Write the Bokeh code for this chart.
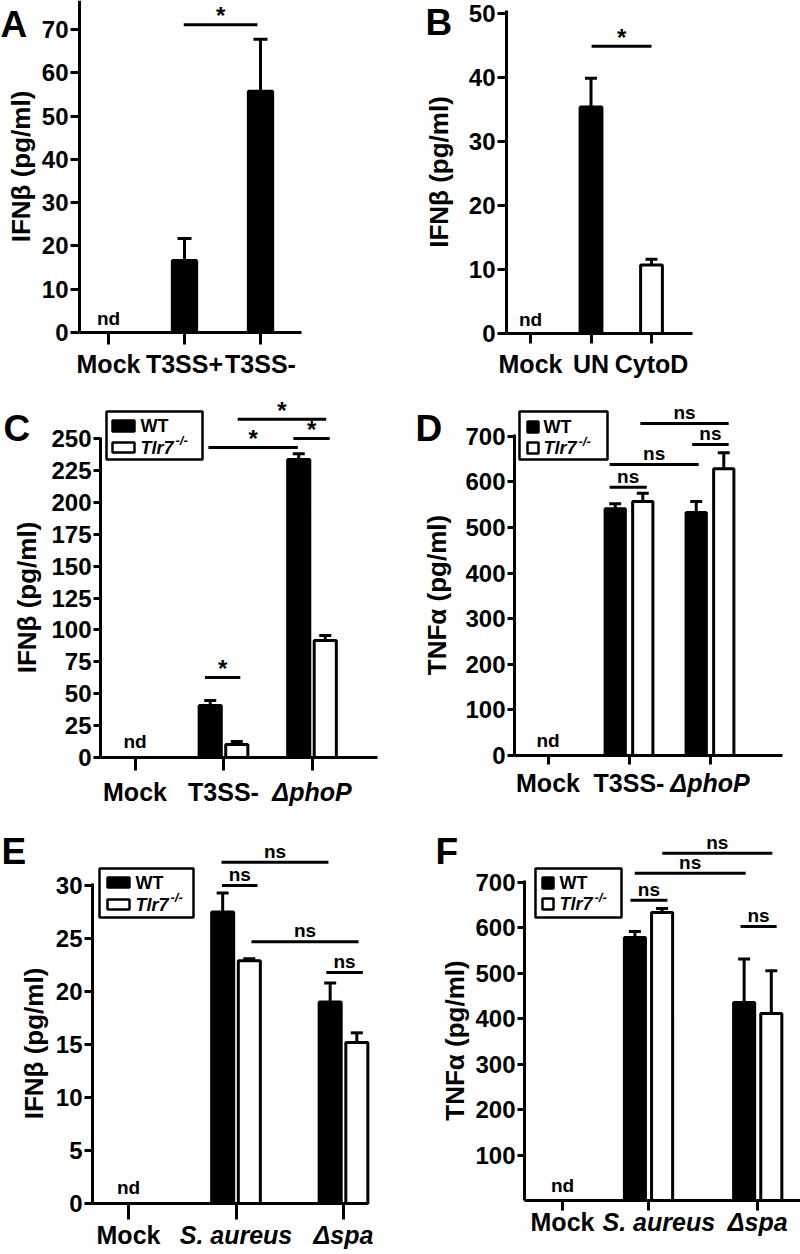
from bokeh.plotting import figure
from bokeh.models import Range1d, LinearAxis, FixedTicker, Whisker, TeeHead, ColumnDataSource
from bokeh.layouts import gridplot
from bokeh.embed import file_html
from bokeh.resources import INLINE
from bokeh.core.properties import value

# ------------------------------------------------------------------ data
cats_A = ["Mock", "T3SS+", "T3SS-"]
ifnb_A = [None, 16.6, 55.7]
sem_A = [None, 5.1, 12.0]
sig_A = [(1.99, 2.96, 71.1, "*")]

cats_B = ["Mock", "UN", "CytoD"]
ifnb_B = [None, 35.4, 10.7]
sem_B = [None, 4.5, 0.9]
sig_B = [(2.01, 3.0, 44.9, "*")]

cats_C = ["Mock", "T3SS-", "\u0394phoP"]
wt_C = [None, 40.7, 233.5]
wt_sem_C = [None, 4.0, 4.5]
ko_C = [None, 10.2, 91.7]
ko_sem_C = [None, 2.3, 3.9]
sig_C = [(1.79, 2.19, 62.7, "*"), (1.83, 2.84, 243, "*"),
         (2.79, 3.20, 250, "*"), (2.16, 3.16, 265, "*")]

cats_D = ["Mock", "T3SS-", "\u0394phoP"]
wt_D = [None, 541, 533]
wt_sem_D = [None, 11, 24]
ko_D = [None, 557, 629]
ko_sem_D = [None, 18, 35]
sig_D = [(1.76, 2.22, 588, "ns"), (1.76, 2.86, 638, "ns"),
         (2.78, 3.23, 682, "ns"), (2.14, 3.23, 728, "ns")]

cats_E = ["Mock", "S. aureus", "\u0394spa"]
wt_E = [None, 27.5, 19.0]
wt_sem_E = [None, 1.8, 1.8]
ko_E = [None, 22.9, 15.2]
ko_sem_E = [None, 0.2, 0.9]
sig_E = [(1.87, 2.20, 30.0, "ns"), (1.865, 2.86, 32.2, "ns"),
         (2.144, 3.14, 24.7, "ns"), (2.84, 3.18, 21.8, "ns")]

cats_F = ["Mock", "S. aureus", "\u0394spa"]
wt_F = [None, 578, 435]
wt_sem_F = [None, 13, 96]
ko_F = [None, 633, 411]
ko_sem_F = [None, 9, 94]
sig_F = [(1.79, 2.22, 660, "ns"), (1.84, 3.13, 719, "ns"),
         (2.16, 3.44, 763, "ns"), (3.07, 3.49, 602, "ns")]

FONT = "Liberation Sans"


def style_axis(ax, tick_out, label_size):
    ax.axis_line_width = 3
    ax.axis_line_color = "black"
    ax.major_tick_line_width = 3
    ax.major_tick_line_color = "black"
    ax.major_tick_in = 0
    ax.major_tick_out = tick_out
    ax.minor_tick_in = 0
    ax.minor_tick_out = 0
    ax.major_label_text_font = FONT
    ax.major_label_text_font_style = "bold"
    ax.major_label_text_font_size = label_size
    ax.major_label_text_color = "black"
    ax.axis_label_text_font = FONT
    ax.axis_label_text_font_style = "bold"
    ax.axis_label_text_font_size = "26px"
    ax.axis_label_text_color = "black"


def txt(p, xs, ys, texts, size, align="center", baseline="alphabetic",
        style="bold", y_offset=0):
    p.text(x=xs, y=ys, text=texts, text_font=value(FONT), text_font_style=style,
           text_font_size=size, text_align=align, text_baseline=baseline,
           text_color="black", y_offset=y_offset)


def build(s):
    W, H = s["W"], s["H"]
    yax, xax, x1, dx, ppu = s["yax"], s["xax"], s["x1"], s["dx"], s["ppu"]
    X = lambda px: 1 + (px - x1) / dx
    Y = lambda py: (xax - py) / ppu
    p = figure(width=W, height=H, x_range=Range1d(X(0), X(W)),
               y_range=Range1d(Y(H), Y(0)), x_axis_location=None,
               y_axis_location=None, toolbar_location=None, output_backend="svg",
               min_border=0, outline_line_color=None,
               background_fill_color="white", border_fill_color="white")
    p.grid.visible = False

    # y axis
    ytop = s["ytop"] if s["ytop"] is not None else Y(0)
    ya = LinearAxis(fixed_location=X(yax), bounds=(0, ytop),
                    ticker=FixedTicker(ticks=s["yticks"]), axis_label=s["ylabel"])
    style_axis(ya, s["ytick_out"], "24px")
    ya.major_label_standoff = 2
    ya.axis_label_standoff = s["als"]
    p.add_layout(ya, "left")

    # x axis (upright labels)
    pos, cats, ital = s["xpos"], s["cats"], s["italic"]
    ov = {pos[i]: ("" if ital[i] else cats[i]) for i in range(len(cats))}
    xa = LinearAxis(fixed_location=0, bounds=(X(yax), X(s["xright"])),
                    ticker=FixedTicker(ticks=pos), major_label_overrides=ov)
    style_axis(xa, s["xtick_out"], "25px")
    xa.major_label_standoff = s["xls"]
    p.add_layout(xa, "below")
    # x axis (italic labels; its own ticks are hidden)
    shift = s.get("ishift", {})
    ipos = [pos[i] + shift.get(i, 0) for i in range(len(cats)) if ital[i]]
    if ipos:
        iov = {pos[i] + shift.get(i, 0): cats[i] for i in range(len(cats)) if ital[i]}
        xb = LinearAxis(fixed_location=0, ticker=FixedTicker(ticks=ipos),
                        major_label_overrides=iov)
        style_axis(xb, s["xtick_out"], "25px")
        xb.axis_line_color = None
        xb.major_tick_line_color = None
        xb.major_label_text_font_style = "bold italic"
        xb.major_label_standoff = s["xls"]
        p.add_layout(xb, "below")

    # bars + error bars
    present = [False] * len(cats)
    for vals, sems, off, fills in s["series"]:
        xs, tops, ups, cols = [], [], [], []
        for i, v in enumerate(vals):
            if v is None:
                continue
            present[i] = True
            xs.append(pos[i] + off)
            tops.append(v)
            ups.append(v + sems[i])
            cols.append(fills[i])
        src = ColumnDataSource(dict(x=xs, top=tops, upper=ups, fill=cols))
        p.vbar(x="x", top="top", bottom=0, width=s["bw"], source=src,
               fill_color="fill", line_color="black", line_width=3)
        p.add_layout(Whisker(source=src, base="x", lower="top", upper="upper",
                             dimension="height", line_width=3, line_color="black",
                             upper_head=TeeHead(size=s.get("cap", 12), line_width=3,
                                                line_color="black"),
                             lower_head=None))
    nd_x = [pos[i] for i in range(len(cats)) if not present[i]]
    txt(p, nd_x, [0] * len(nd_x), ["nd"] * len(nd_x), "19px", y_offset=-s["nd_up"])

    # significance brackets
    sig = s["sig"]
    p.segment(x0=[a for a, b, y, t in sig], x1=[b for a, b, y, t in sig],
              y0=[y for a, b, y, t in sig], y1=[y for a, b, y, t in sig],
              line_width=3, line_color="black")
    stars = [t for t in sig if t[3] == "*"]
    nss = [t for t in sig if t[3] != "*"]
    if stars:
        txt(p, [(a + b) / 2 for a, b, y, t in stars], [y for a, b, y, t in stars],
            [t for a, b, y, t in stars], "24px", y_offset=-9)
    if nss:
        txt(p, [(a + b) / 2 for a, b, y, t in nss], [y for a, b, y, t in nss],
            [t for a, b, y, t in nss], "19px", y_offset=-11)

    # panel letter
    L, lx, ly = s["letter"]
    txt(p, [X(lx)], [Y(ly)], [L], "37px", align="left")

    # legend
    lg = s.get("legend")
    if lg:
        bl, br, bt, bb = lg["box"]
        p.quad(left=[X(bl)], right=[X(br)], top=[Y(bt)], bottom=[Y(bb)],
               fill_color="white", line_color="black", line_width=2.5)
        sl, sr = lg["sw"]
        kt, kb = lg["black"]
        wt_, wb = lg["white"]
        p.quad(left=[X(sl + 1), X(sl + 1)], right=[X(sr - 1), X(sr - 1)],
               top=[Y(kt + 1), Y(wt_ + 1)], bottom=[Y(kb - 1), Y(wb - 1)],
               fill_color=["black", "white"], line_color="black", line_width=2.5)
        tx = lg["tx"]
        txt(p, [X(tx)], [Y((kt + kb) / 2)], ["WT"], "18px", align="left", baseline="middle")
        txt(p, [X(tx)], [Y((wt_ + wb) / 2)], ["Tlr7"], "18px", align="left",
            baseline="middle", style="bold italic")
        txt(p, [X(tx + 35)], [Y((wt_ + wb) / 2 - 7)], ["-/-"], "13px", align="left",
            baseline="middle", style="bold italic")
    return p


BLK = ["black"] * 3
WHT = ["white"] * 3

specA = dict(W=400, H=390, yax=79, xax=332, x1=108, dx=76, ppu=4.33, xright=301,
             ytop=None, ytick_out=9, xtick_out=12, xls=5, als=3,
             yticks=list(range(0, 71, 10)), ylabel="IFN\u03b2 (pg/ml)",
             xpos=[1, 2, 3], cats=cats_A, italic=[False, False, False],
             series=[(ifnb_A, sem_A, 0, BLK)], bw=0.32, cap=14, nd_up=14, sig=sig_A,
             letter=("A", 0, 24))
specB = dict(W=400, H=390, yax=106, xax=333, x1=130, dx=60.5, ppu=6.4, xright=292,
             ytop=50.5, ytick_out=9, xtick_out=10, xls=6, als=12,
             yticks=list(range(0, 51, 10)), ylabel="IFN\u03b2 (pg/ml)",
             xpos=[1, 2, 3], cats=cats_B, italic=[False, False, False],
             series=[(ifnb_B, sem_B, 0, ["black", "black", "white"])], bw=0.36,
             cap=12, nd_up=14, sig=sig_B, letter=("B", 25, 22))
specC = dict(W=400, H=438, yax=100, xax=367, x1=134.5, dx=88.5, ppu=1.276, xright=377,
             ytop=251, ytick_out=7, xtick_out=13, xls=7, als=6,
             yticks=list(range(0, 251, 25)), ylabel="IFN\u03b2 (pg/ml)",
             xpos=[1, 2, 3], cats=cats_C, italic=[False, False, True],
             series=[(wt_C, wt_sem_C, -0.15, BLK), (ko_C, ko_sem_C, 0.15, WHT)],
             bw=0.25, nd_up=16, sig=sig_C, letter=("C", 3, 38),
             legend=dict(box=(106, 202, 21, 69), sw=(111, 135), black=(29, 42),
                         white=(51, 63), tx=140))
specD = dict(W=400, H=438, yax=114, xax=365, x1=147.5, dx=81, ppu=0.456, xright=382,
             ytop=705, ytick_out=7, xtick_out=9, xls=4, als=10,
             yticks=list(range(0, 701, 100)), ylabel="TNF\u03b1 (pg/ml)",
             xpos=[1, 2, 3], cats=cats_D, italic=[False, False, True],
             series=[(wt_D, wt_sem_D, -0.17, BLK), (ko_D, ko_sem_D, 0.17, WHT)],
             bw=0.25, nd_up=15, sig=sig_D, letter=("D", 15, 38),
             legend=dict(box=(119, 207, 21, 69), sw=(126, 139), black=(30, 43),
                         white=(51, 64), tx=143))
specE = dict(W=400, H=426, yax=92, xax=375, x1=128, dx=107.5, ppu=10.6, xright=367,
             ytop=30.2, ytick_out=8, xtick_out=16, xls=1, als=4,
             yticks=list(range(0, 31, 5)), ylabel="IFN\u03b2 (pg/ml)",
             xpos=[1, 2, 3], cats=cats_E, italic=[False, True, True],
             series=[(wt_E, wt_sem_E, -0.124, BLK), (ko_E, ko_sem_E, 0.124, WHT)],
             bw=0.205, nd_up=16, sig=sig_E, letter=("E", 1, 23),
             legend=dict(box=(99, 193, 40, 89), sw=(106, 130), black=(48, 60),
                         white=(70, 82), tx=135))
specF = dict(W=400, H=426, yax=124, xax=372, x1=162, dx=86, ppu=0.455, xright=400,
             ytop=704, ytick_out=7, xtick_out=10, xls=-3, als=2,
             yticks=list(range(100, 701, 100)), ylabel="TNF\u03b1 (pg/ml)",
             xpos=[1, 2, 3.27], cats=cats_F, italic=[False, True, True],
             ishift={1: 0.12},
             series=[(wt_F, wt_sem_F, -0.158, BLK), (ko_F, ko_sem_F, 0.158, WHT)],
             bw=0.245, nd_up=15, sig=sig_F, letter=("F", 35, 23),
             legend=dict(box=(135, 221, 40, 89), sw=(141, 154), black=(48, 61),
                         white=(69, 82), tx=159))

figs = [build(s) for s in (specA, specB, specC, specD, specE, specF)]
grid = gridplot([[figs[0], figs[1]], [figs[2], figs[3]], [figs[4], figs[5]]],
                toolbar_location=None)

open("out.html", "w").write(file_html(grid, INLINE))
